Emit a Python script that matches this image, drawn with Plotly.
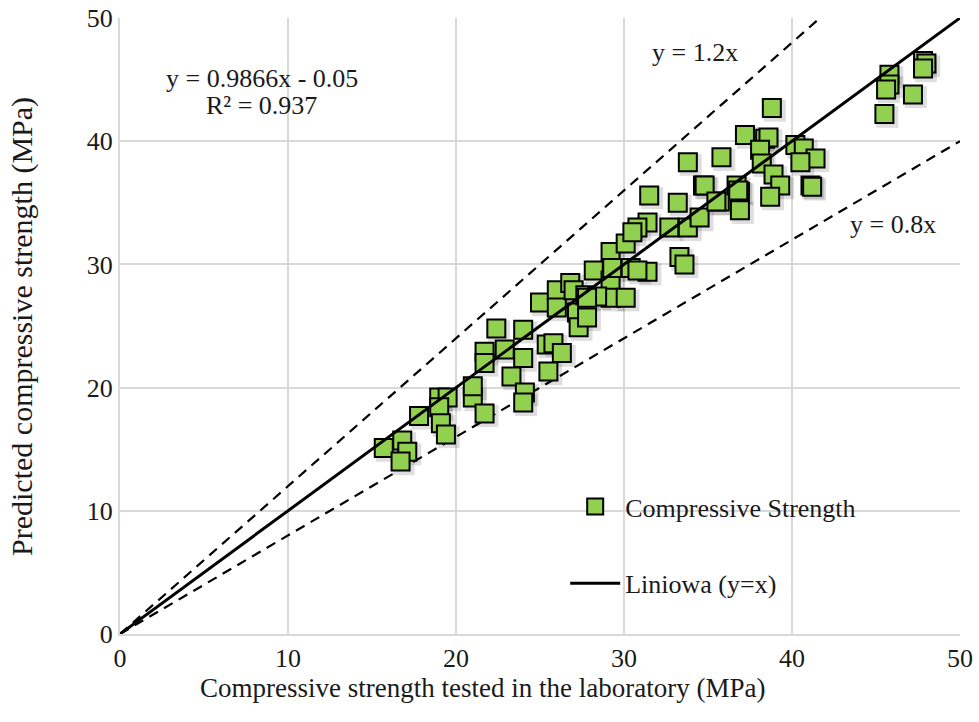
import plotly.graph_objects as go
import numpy as np

# Laboratory (x) vs predicted (y) compressive strength, MPa
lab = [15.7, 16.8, 17.1, 16.7, 17.8, 19.0, 19.5, 19.0, 19.1, 19.4,
       21.0, 21.0, 21.7, 21.7, 21.7, 22.4, 22.9, 24.0, 24.0, 23.3,
       24.1, 24.0, 25.4, 25.5, 25.8, 26.3, 25.0, 26.0, 26.0, 26.8,
       27.0, 27.2, 27.7, 27.3, 27.8, 29.2, 30.1, 28.2, 29.2, 29.3,
       30.4, 31.4, 29.2, 30.1, 33.3, 33.6, 31.4, 30.8, 30.5, 31.5,
       33.2, 32.7, 33.8, 28.4, 27.8, 34.7, 36.9, 35.7, 36.9, 34.5,
       30.8, 38.8, 37.2, 38.4, 38.6, 40.2, 40.7, 38.1, 35.8, 33.8,
       41.4, 40.5, 38.2, 38.9, 34.8, 36.7, 39.3, 41.1, 36.8, 35.5,
       38.7, 41.2, 45.8, 45.8, 45.6, 47.2, 45.5, 47.8, 48.0, 47.8]
pred = [15.1, 15.7, 14.8, 14.0, 17.7, 19.2, 19.2, 18.4, 17.1, 16.2,
        19.2, 20.1, 17.9, 22.9, 22.0, 24.8, 23.1, 24.7, 22.4, 20.9,
        19.6, 18.8, 23.5, 21.3, 23.6, 22.8, 26.9, 27.9, 26.5, 28.5,
        27.9, 26.1, 27.5, 24.9, 25.7, 31.0, 31.7, 29.5, 28.7, 29.7,
        29.7, 29.4, 27.3, 27.3, 30.6, 30.0, 33.4, 33.0, 32.6, 35.6,
        35.0, 33.0, 33.0, 27.4, 27.3, 36.4, 35.9, 35.1, 34.4, 33.8,
        29.5, 42.7, 40.5, 40.2, 40.3, 39.7, 39.4, 39.3, 38.7, 38.3,
        38.6, 38.3, 38.2, 37.3, 36.4, 36.4, 36.4, 36.4, 36.0, 35.1,
        35.5, 36.3, 45.4, 44.6, 44.2, 43.8, 42.2, 46.5, 46.3, 45.9]

ref_x = [0, 50]
ref_upper_slope = 1.2
ref_lower_slope = 0.8
axis_max = 50
ticks = [0, 10, 20, 30, 40, 50]

FONT = "Liberation Serif, Times New Roman, serif"
GREEN = "#92d050"
TXT = "#1a1a1a"
FS = 26

fig = go.Figure()

# soft shadow under markers
lab_a = np.array(lab)
pred_a = np.array(pred)
fig.add_trace(go.Scatter(
    x=lab_a + 0.17, y=pred_a - 0.22, mode="markers",
    marker=dict(symbol="square", size=22, color="rgba(0,0,0,0.13)", line=dict(width=0)),
    showlegend=False, hoverinfo="skip"))

# dashed reference lines
x_up = [0, axis_max / ref_upper_slope]
fig.add_trace(go.Scatter(x=x_up, y=[v * ref_upper_slope for v in x_up], mode="lines",
                         line=dict(color="black", width=2.2, dash="10px,7px"),
                         showlegend=False, hoverinfo="skip"))
fig.add_trace(go.Scatter(x=ref_x, y=[v * ref_lower_slope for v in ref_x], mode="lines",
                         line=dict(color="black", width=2.2, dash="10px,7px"),
                         showlegend=False, hoverinfo="skip"))

fig.add_trace(go.Scatter(
    x=lab, y=pred, mode="markers", name="Compressive Strength",
    legendgroup="a",
    marker=dict(symbol="square", size=18, color=GREEN, line=dict(color="black", width=2))))

fig.add_trace(go.Scatter(x=ref_x, y=ref_x, mode="lines", name="Liniowa (y=x)",
                         legendgroup="b",
                         line=dict(color="black", width=3)))

fig.update_layout(
    width=979, height=722,
    margin=dict(l=120, r=19, t=18, b=88),
    paper_bgcolor="white", plot_bgcolor="white",
    font=dict(family=FONT, size=FS, color=TXT),
    showlegend=True,
    legend=dict(x=0.53, y=0.245, xanchor="left", yanchor="top",
                bgcolor="rgba(0,0,0,0)", font=dict(size=FS, family=FONT, color=TXT),
                tracegroupgap=40, itemwidth=50),
    xaxis=dict(range=[0, axis_max], tickvals=ticks, showgrid=True, gridcolor="#d9d9d9",
               gridwidth=1.5, zeroline=False, showline=True, linecolor="#d9d9d9", linewidth=2,
               ticks="", automargin=False,
               tickfont=dict(size=FS, family=FONT, color=TXT)),
    yaxis=dict(range=[0, axis_max], tickvals=ticks, showgrid=True, gridcolor="#d9d9d9",
               gridwidth=1.5, zeroline=False, showline=True, linecolor="#d9d9d9", linewidth=2,
               ticks="", automargin=False,
               tickfont=dict(size=FS, family=FONT, color=TXT)),
    annotations=[
        dict(x=0.431, y=-0.088, xref="paper", yref="paper", showarrow=False,
             text="Compressive strength tested in the laboratory (MPa)",
             xanchor="center", yanchor="middle",
             font=dict(size=27, family=FONT, color=TXT)),
        dict(x=-0.1167, y=0.5, xref="paper", yref="paper", showarrow=False,
             text="Predicted compressive strength (MPa)", textangle=-90,
             xanchor="center", yanchor="middle",
             font=dict(size=30, family=FONT, color=TXT)),
        dict(x=8.45, y=45.1, xref="x", yref="y", showarrow=False,
             text="y = 0.9866x - 0.05",
             font=dict(size=FS, family=FONT, color=TXT)),
        dict(x=8.45, y=42.86, xref="x", yref="y", showarrow=False,
             text="R² = 0.937",
             font=dict(size=FS, family=FONT, color=TXT)),
        dict(x=34.2, y=47.2, xref="x", yref="y", showarrow=False, text="y = 1.2x",
             font=dict(size=FS, family=FONT, color=TXT)),
        dict(x=46.0, y=33.2, xref="x", yref="y", showarrow=False, text="y = 0.8x",
             font=dict(size=FS, family=FONT, color=TXT)),
    ],
)

fig.write_html("out.html")
